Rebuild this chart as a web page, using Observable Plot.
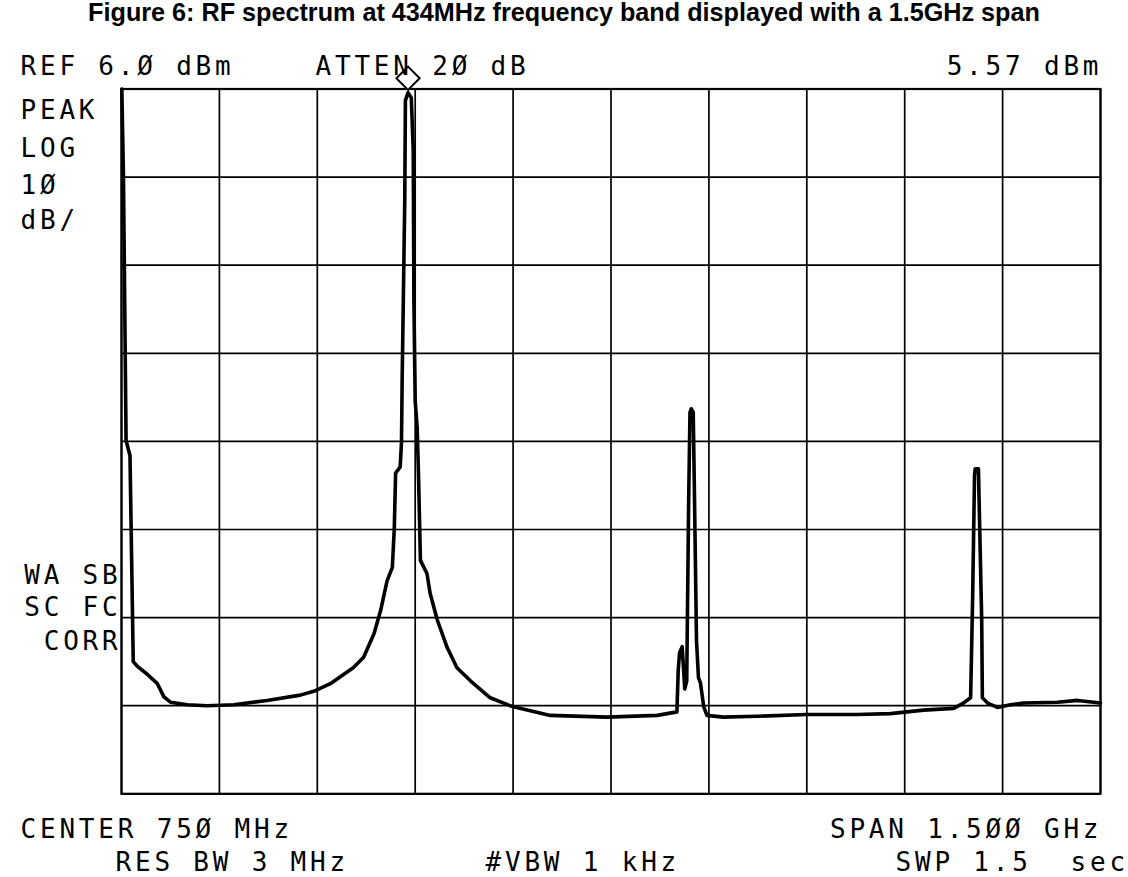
<!DOCTYPE html>
<html><head><meta charset="utf-8">
<script src="https://cdn.jsdelivr.net/npm/d3@7"></script>
<script src="https://cdn.jsdelivr.net/npm/@observablehq/plot@0.6"></script>
<style>
body{margin:0;background:#fff;}
#title{font:bold 25.2px "Liberation Sans",Arial,sans-serif;text-align:center;height:25px;line-height:24px;width:1128px;color:#000;white-space:nowrap;}
#chart svg text{letter-spacing:3.8px;white-space:pre;}
</style></head><body>
<div id="title"></div>
<div id="chart"></div>
<script>
const titleText = "Figure 6: RF spectrum at 434MHz frequency band displayed with a 1.5GHz span";

// Trace: frequency (MHz) and level (dBm)
const freqMHz = [0.5, 3, 7, 13, 18, 24, 39, 55, 65, 75, 101, 131, 172, 223, 274, 297, 320, 355, 371, 387, 397, 407, 415, 418, 420, 427, 429, 430, 434, 435, 439, 444, 447, 448, 450, 453, 455, 458, 468, 473, 484, 499, 514, 535, 565, 599, 657, 744, 821, 851, 853, 855, 859, 863, 866, 869, 871, 873, 876, 878, 881, 884, 887, 892, 897, 922, 974, 1050, 1127, 1178, 1229, 1275, 1290, 1301, 1304, 1307, 1308, 1313, 1314, 1318, 1319, 1327, 1342, 1362, 1382, 1434, 1465, 1500];
const levelDbm = [6.0, -3.9, -33.9, -35.6, -59.0, -59.5, -60.4, -61.5, -63.0, -63.6, -63.9, -64.0, -63.9, -63.4, -62.8, -62.3, -61.5, -59.7, -58.5, -55.8, -53.2, -49.8, -48.3, -43.8, -37.6, -36.9, -34.1, -27.1, -6.7, 4.7, 5.57, 5.0, -1.0, -18.0, -29.4, -32.4, -37.6, -47.5, -49.0, -51.3, -54.3, -57.4, -59.7, -61.2, -63.1, -64.1, -65.1, -65.3, -65.1, -64.7, -60.0, -58.0, -57.3, -62.1, -61.2, -40.7, -30.7, -30.3, -30.7, -40.7, -56.6, -60.8, -61.4, -64.1, -65.1, -65.3, -65.2, -65.0, -65.0, -64.9, -64.5, -64.3, -63.7, -63.1, -52.1, -37.9, -37.1, -37.1, -40.7, -54.3, -63.1, -63.7, -64.2, -63.9, -63.7, -63.6, -63.4, -63.7];

// Graticule: 150 MHz / div, 10 dB / div from REF 6 dBm
const gridFreqs = [0, 150, 300, 450, 600, 750, 900, 1050, 1200, 1350, 1500];
const gridLevels = [6, -4, -14, -24, -34, -44, -54, -64, -74];

// Marker on the carrier
const markerFreq = 439;

// Screen annotations
const topLeftText = "REF 6.Ø dBm";
const attenText = "ATTEN 2Ø dB";
const markerText = "5.57 dBm";
const leftTexts = ["PEAK", "LOG", "1Ø", "dB/"];
const leftLowTexts = ["WA SB", "SC FC", "CORR"];
const bottomRow1 = ["CENTER 75Ø MHz", "SPAN 1.5ØØ GHz"];
const bottomRow2 = ["RES BW 3 MHz", "#VBW 1 kHz", "SWP 1.5  sec"];

document.getElementById("title").textContent = titleText;

const trace = freqMHz.map((f, i) => ({f, db: levelDbm[i]}));
const peak = trace.find(d => d.f === markerFreq);

const mono = {fontFamily: "DejaVu Sans Mono", fontSize: 26, fill: "black", lineAnchor: "middle"};
const label = (t, frameAnchor, dx, dy, textAnchor = "start") =>
  Plot.text([t], {text: d => d, frameAnchor, dx, dy, textAnchor, ...mono});

const plot = Plot.plot({
  width: 1128,
  height: 852,
  marginLeft: 121,
  marginRight: 28,
  marginTop: 63.5,
  marginBottom: 83.7,
  x: {domain: [0, 1500], axis: null},
  y: {domain: [-74, 6], axis: null},
  style: {background: "white", overflow: "visible"},
  marks: [
    Plot.ruleX(gridFreqs, {stroke: "black", strokeWidth: 1.7}),
    Plot.ruleY(gridLevels, {stroke: "black", strokeWidth: 1.7}),
    Plot.frame({stroke: "black", strokeWidth: 2.2}),
    Plot.line(trace, {x: "f", y: "db", stroke: "black", strokeWidth: 3.6, strokeLinejoin: "round"}),
    Plot.dot([peak], {x: "f", y: "db", symbol: "diamond2", r: 10.5, dy: -14.5, fill: "white", stroke: "black", strokeWidth: 2}),
    label(topLeftText, "top-left", -101, -22.5),
    label(attenText, "top-left", 194, -22.5),
    label(markerText, "top-right", 1.8, -22.5, "end"),
    ...leftTexts.map((t, i) => label(t, "top-left", -101, [21.5, 59.5, 96.5, 131.5][i])),
    ...leftLowTexts.map((t, i) => label(t, "top-left", 0, [486.5, 518.5, 552.5][i], "end")),
    label(bottomRow1[0], "bottom-left", -101, 35.7),
    label(bottomRow1[1], "bottom-right", 1.8, 35.7, "end"),
    label(bottomRow2[0], "bottom-left", -6, 68.7),
    label(bottomRow2[1], "bottom-left", 364, 68.7),
    label(bottomRow2[2], "bottom-left", 774, 68.7)
  ]
});
document.getElementById("chart").appendChild(plot);
</script>
</body></html>
